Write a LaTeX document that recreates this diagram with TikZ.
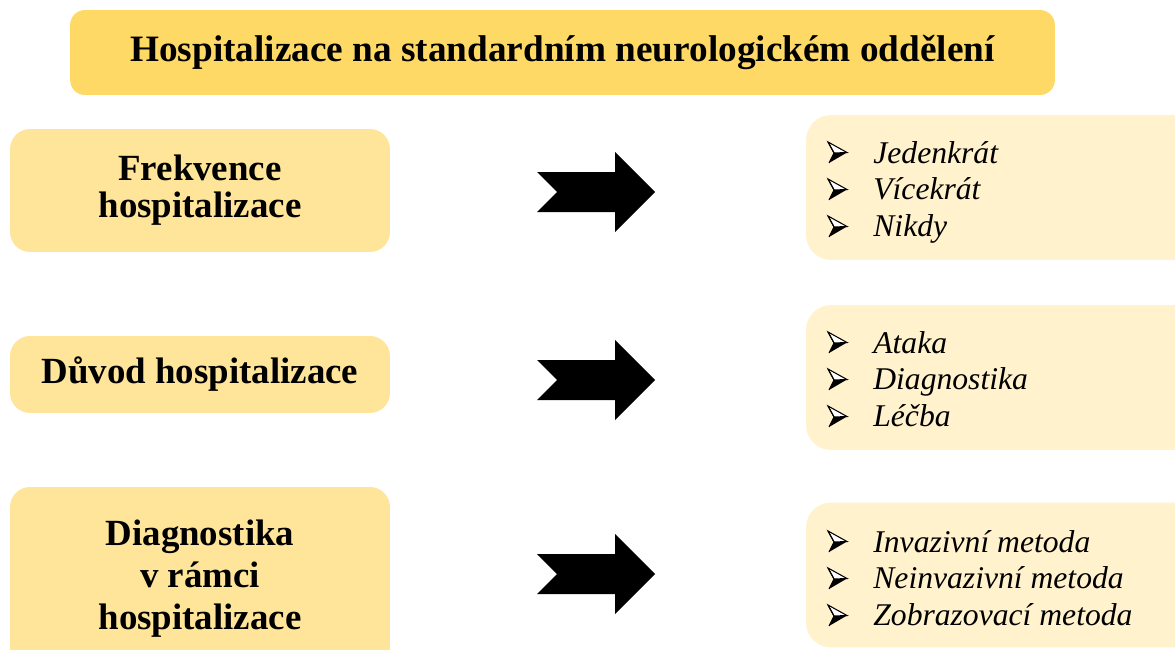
\documentclass[tikz,border=0pt]{standalone}
\usepackage{fontspec}
\setmainfont{Liberation Serif}
\definecolor{goldA}{HTML}{FFD966}
\definecolor{goldB}{HTML}{FFE599}
\definecolor{goldC}{HTML}{FFF2CC}
\begin{document}
\begin{tikzpicture}[x=0.02cm,y=-0.02cm,
  titlebox/.style={fill=goldA, rounded corners=0.3cm, minimum width=19.7cm, minimum height=1.7cm, inner sep=0pt, font=\fontsize{21.2}{25}\selectfont\bfseries},
  lbox/.style={fill=goldB, rounded corners=0.4cm, minimum width=7.6cm, inner sep=0pt, align=center, font=\fontsize{21}{21}\selectfont\bfseries},
  rbox/.style={fill=goldC, rounded corners=0.5cm, minimum width=7.88cm, minimum height=2.9cm, inner sep=0pt},
  listtext/.style={anchor=base west, inner sep=0pt, font=\fontsize{18}{21}\selectfont\itshape},
  blockarrow/.pic={\fill[black] (-59,-20) -- (19,-20) -- (19,-40) -- (59,0) -- (19,40) -- (19,20) -- (-59,20) -- (-39,0) -- cycle;},
  bulletmark/.pic={
    \fill[black] (6,-10) -- (19,-10.5) -- (1,0) -- cycle;
    \draw[black, fill=white, line width=0.6pt, line join=miter] (0,-21) -- (19,-10.5) -- (6,-10) -- cycle;
    \draw[black, line width=0.6pt] (0,-21) -- (6,-10) -- (1,0);}
]
\useasboundingbox (0,0) rectangle (1175,649);
\clip (0,0) rectangle (1175,649);

\node[titlebox] (t) at (562.5,52.5) {Hospitalizace na standardním neurologickém oddělení};

\node[lbox, minimum height=2.46cm] (a1) at (200,190.5) {Frekvence\\hospitalizace};
\node[lbox, minimum height=1.54cm] (a2) at (200,374.5) {Důvod hospitalizace};
\node[lbox, minimum height=3.66cm, font=\fontsize{21}{23.8}\selectfont\bfseries] (a3) at (200,578.5) {Diagnostika\\v rámci\\hospitalizace};

\node[rbox] (r1) at (1003,187.5) {};
\node[rbox] (r2) at (1003,377.5) {};
\node[rbox] (r3) at (1003,575) {};

\node[listtext] (l1) at (873,163) {\begin{tabular}[t]{@{}l@{}}Jedenkrát\\ Vícekrát\\ Nikdy\end{tabular}};
\node[listtext] (l2) at (873,353) {\begin{tabular}[t]{@{}l@{}}Ataka\\ Diagnostika\\ Léčba\end{tabular}};
\node[listtext] (l3) at (873,552) {\begin{tabular}[t]{@{}l@{}}Invazivní metoda\\ Neinvazivní metoda\\ Zobrazovací metoda\end{tabular}};

\foreach \yy in {163,200,237,353,390,427,552,589,626} {
  \pic at (828,\yy) {bulletmark};
}

\pic at (596,192) {blockarrow};
\pic at (596,380) {blockarrow};
\pic at (596,574) {blockarrow};
\end{tikzpicture}
\end{document}
